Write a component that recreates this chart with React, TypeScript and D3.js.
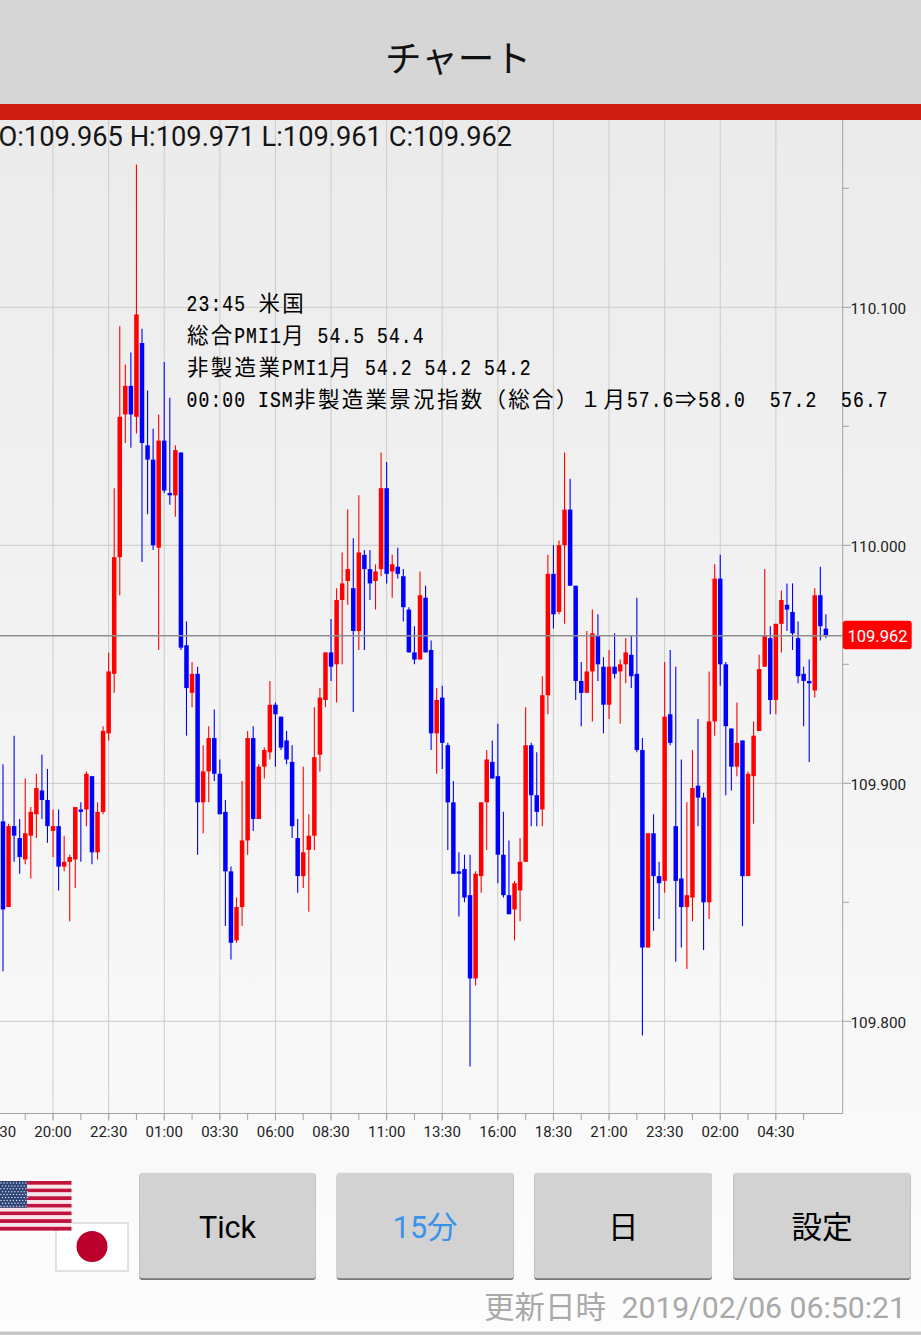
import React from "react";
import * as d3 from "d3";

// Prices are stored as thousandths above 109 (1000 = 110.000).
const opens = [
  884,848,882,877,868,878,887,897,893,880,
  882,865,867,868,889,889,903,871,888,921,
  946,995,1055,1067,1054,1085,1042,1036,999,1044,
  1022,1021,1039,958,938,946,892,905,919,904,
  888,863,834,848,876,919,885,907,913,933,
  928,918,909,877,861,872,878,912,935,955,
  950,977,985,982,964,996,990,985,990,1024,
  989,991,987,973,955,952,978,956,921,936,
  916,892,863,864,853,818,861,892,909,903,
  870,853,847,855,867,916,895,889,937,988,
  972,1000,1015,983,943,938,947,962,949,933,
  949,947,950,954,946,914,831,879,861,859,
  929,882,860,848,852,899,894,850,926,986,
  950,923,907,918,861,903,922,949,961,935,
  967,975,972,961,946,943,939,979,965,
];
const closes = [
  847,882,878,869,879,888,898,893,882,882,
  865,867,869,890,888,904,871,888,922,947,
  995,1054,1067,1055,1097,1043,1036,1000,1044,1023,
  1021,1040,957,940,946,892,905,919,904,887,
  863,833,848,876,919,885,907,914,933,929,
  915,910,882,861,871,878,911,936,955,949,
  977,984,990,964,997,990,984,989,1024,988,
  992,988,974,955,952,979,955,921,935,917,
  892,862,862,852,818,862,892,910,902,870,
  853,845,858,867,916,895,888,937,988,971,
  1000,1015,983,943,938,947,963,950,933,949,
  946,950,955,945,914,831,879,861,858,928,
  917,859,848,853,898,894,850,926,986,950,
  924,907,917,861,904,920,948,962,935,967,
  977,973,963,945,943,942,979,966,962,
];
const highs = [
  908,883,920,885,902,890,904,912,906,889,
  889,878,870,890,892,905,903,892,924,955,
  1024,1092,1076,1081,1160,1091,1065,1049,1055,1077,
  1062,1042,1039,968,951,949,916,924,931,910,
  893,865,852,901,922,924,908,915,943,934,
  928,922,916,885,907,887,932,940,955,969,
  982,997,1015,1003,1021,998,998,992,1039,1035,
  996,999,990,974,966,989,983,960,940,941,
  917,901,871,870,870,863,892,914,918,925,
  888,876,859,877,932,917,913,945,996,1000,
  1002,1039,1028,983,951,964,973,971,953,956,
  963,952,961,962,978,919,879,887,867,951,
  956,949,910,892,914,927,896,947,992,996,
  951,923,934,918,905,926,954,990,966,967,
  981,984,984,968,949,952,982,991,971,
];
const lows = [
  821,848,867,862,866,860,877,885,875,869,
  855,863,842,856,867,882,866,868,887,918,
  938,979,1043,1041,1047,993,1013,998,956,1022,
  1017,1012,956,920,932,870,879,892,901,887,
  840,826,833,840,870,880,885,902,910,907,
  914,908,877,854,856,846,872,905,932,943,
  934,950,975,930,956,956,977,973,987,984,
  978,986,968,955,950,952,955,914,904,906,
  872,862,844,850,781,815,854,872,902,858,
  852,845,834,842,867,882,882,882,929,965,
  971,967,983,935,924,938,926,943,921,927,
  944,925,942,940,913,794,831,838,843,854,
  916,825,831,822,842,882,830,843,920,941,
  895,897,903,840,861,883,922,949,929,929,
  955,964,956,942,924,909,936,960,961,
];

const timeLabels = ["17:30","20:00","22:30","01:00","03:30","06:00","08:30","11:00","13:30","16:00","18:30","21:00","23:30","02:00","04:30"];
const priceLabels = [110.1, 110.0, 109.9, 109.8];
const priceHalfTicks = [110.15, 110.05, 109.95, 109.85];
const lastPrice = 109.962;
const ohlcText = "O:109.965 H:109.971 L:109.961 C:109.962";
const updatedLabel = "更新日時";
const updatedTime = "2019/02/06 06:50:21";
const eventLines = [
  "23:45 米国",
  "総合PMI1月 54.5 54.4",
  "非製造業PMI1月 54.2 54.2 54.2",
  "00:00 ISM非製造業景況指数（総合）１月57.6⇒58.0  57.2  56.7",
];
const buttons = [
  { label: "Tick", x0: 139.3, x1: 315.7, color: "#000" },
  { label: "15分", x0: 336.7, x1: 513.7, color: "#3a92ea" },
  { label: "日", x0: 534.3, x1: 712, color: "#000" },
  { label: "設定", x0: 733.3, x1: 910.7, color: "#000" },
];

const price = (v: number) => 109 + v / 1000;
const x = d3.scaleLinear().domain([0, 148]).range([3, 825.88]);
const y = d3.scaleLinear().domain([110, 109.9]).range([545.3, 783.3]);

const PLOT_RIGHT = 842.7;
const PLOT_TOP = 120;
const PLOT_BOTTOM = 1113.5;
const LAST_INDEX = opens.length - 1;
const SANS = "Roboto, 'Noto Sans CJK JP', sans-serif";
const CJK = "'Noto Sans CJK JP', Roboto, sans-serif";
const ADV = 11.9;

function EventLine({ text, lineY }: { text: string; lineY: number }) {
  let cur = 186;
  const glyphs = Array.from(text).map((ch, i) => {
    const wide = ch.charCodeAt(0) > 0x2000;
    const sx = cur;
    cur += wide ? ADV * 2 : ADV;
    if (ch === " ") return null;
    return wide ? (
      <text key={i} x={sx + 1} y={lineY} fontSize={21.5} fontFamily="'Noto Sans CJK JP'" fill="#000">{ch}</text>
    ) : (
      <text key={i} transform={`translate(${sx + 0.6},${lineY}) scale(0.84,1)`} fontSize={21.5}
        fontFamily="'Liberation Mono', monospace" fill="#000" stroke="#000" strokeWidth={0.2}>{ch}</text>
    );
  });
  return <g>{glyphs}</g>;
}

export default function App() {
  const gridIdx = d3.range(-1, 15).map((k) => 9 + k * 10).filter((i) => i <= LAST_INDEX && x(i) > 0);
  const tickIdx = d3.range(-1, 30).map((k) => 4 + k * 5).filter((i) => i <= LAST_INDEX && x(i) > 0);
  const usStripes = d3.range(13);
  const stripeH = 49.6 / 13;
  const starCols = d3.range(0, 9);
  const starRows = d3.range(0, 9);
  return (
    <svg width={921} height={1335} viewBox="0 0 921 1335"
      style={{ position: "absolute", left: 0, top: 0, display: "block" }}>
      <defs>
        <linearGradient id="bg" x1="0" y1="120" x2="0" y2="1335" gradientUnits="userSpaceOnUse">
          <stop offset="0" stopColor="#ebebeb" />
          <stop offset="0.82" stopColor="#f9f9f9" />
          <stop offset="1" stopColor="#fdfdfd" />
        </linearGradient>
      </defs>
      <rect x={0} y={120} width={921} height={1215} fill="url(#bg)" />
      <rect x={0} y={0} width={921} height={104} fill="#d6d6d6" />
      <rect x={0} y={104} width={921} height={16} fill="#d01e13" />
      <text x={458} y={72} textAnchor="middle" fontSize={36.6} fontFamily={CJK} fill="#111">チャート</text>

      {/* grid */}
      {priceLabels.map((p) => (
        <line key={p} x1={0} x2={PLOT_RIGHT} y1={y(p)} y2={y(p)} stroke="#cacaca" strokeWidth={1} />
      ))}
      {gridIdx.map((i) => (
        <line key={i} x1={x(i)} x2={x(i)} y1={PLOT_TOP} y2={1121} stroke="#cccccc" strokeWidth={1} />
      ))}

      {/* candles */}
      {opens.map((o, i) => {
        const up = closes[i] >= o;
        const color = up ? "#ff0000" : "#0000ff";
        const top = y(price(Math.max(o, closes[i])));
        const bot = y(price(Math.min(o, closes[i])));
        return (
          <g key={i}>
            <line x1={x(i)} x2={x(i)} y1={y(price(highs[i]))} y2={y(price(lows[i]))} stroke={color} strokeWidth={1.1} />
            <rect x={x(i) - 2.25} width={4.5} y={top} height={Math.max(bot - top, 1)} fill={color} />
          </g>
        );
      })}

      {/* last price line */}
      <line x1={0} x2={PLOT_RIGHT} y1={y(lastPrice)} y2={y(lastPrice)} stroke="#8e8e8e" strokeWidth={1.5} />

      {/* axes */}
      <line x1={PLOT_RIGHT} x2={PLOT_RIGHT} y1={PLOT_TOP} y2={PLOT_BOTTOM} stroke="#a2a2a2" strokeWidth={1} />
      <line x1={0} x2={PLOT_RIGHT} y1={PLOT_BOTTOM} y2={PLOT_BOTTOM} stroke="#a2a2a2" strokeWidth={1} />
      {tickIdx.map((i) => (
        <line key={i} x1={x(i)} x2={x(i)} y1={PLOT_BOTTOM} y2={1120} stroke="#a2a2a2" strokeWidth={1} />
      ))}
      {priceHalfTicks.map((p) => (
        <line key={p} x1={PLOT_RIGHT} x2={849} y1={y(p)} y2={y(p)} stroke="#a2a2a2" strokeWidth={1} />
      ))}
      {priceLabels.map((p) => (
        <g key={p}>
          <line x1={PLOT_RIGHT} x2={851} y1={y(p)} y2={y(p)} stroke="#a2a2a2" strokeWidth={1} />
          <text x={850.5} y={y(p) + 6.3} fontSize={15.3} fontFamily={SANS} fill="#222">{p.toFixed(3)}</text>
        </g>
      ))}
      {timeLabels.map((t, k) => (
        <text key={k} x={x(-1 + k * 10)} y={1136.5} textAnchor="middle" fontSize={15} fontFamily={SANS} fill="#222">{t}</text>
      ))}

      {/* last price tag */}
      <rect x={842.7} y={620.7} width={69} height={28.6} rx={3} fill="#ff0000" />
      <text x={877.5} y={y(lastPrice) + 5.8} textAnchor="middle" fontSize={16.5} fontFamily={SANS} fill="#fff">{lastPrice.toFixed(3)}</text>

      {/* OHLC */}
      <text x={-1.5} y={145.5} fontSize={27.25} fontFamily={SANS} fill="#151515">{ohlcText}</text>

      {/* economic events */}
      {eventLines.map((t, k) => (
        <EventLine key={k} text={t} lineY={311 + k * 32} />
      ))}

      {/* flags */}
      <g>
        <rect x={56} y={1223} width={72} height={48} fill="#fff" stroke="#e2e2e2" strokeWidth={2} />
        <circle cx={92} cy={1246.5} r={15.5} fill="#bc002d" />
        {usStripes.map((s) => (
          <rect key={s} x={0} y={1181 + s * stripeH} width={71.5} height={stripeH} fill={s % 2 ? "#f6e6ea" : "#c0143c"} />
        ))}
        <rect x={0} y={1181} width={27} height={26.7} fill="#2d4378" />
        {starRows.map((r) =>
          starCols.map((c) => (
            <circle key={`${r}-${c}`} cx={1 + c * 3.1 + (r % 2 ? 1.5 : 0)} cy={1183 + r * 2.9} r={0.75} fill="#d6dcea" />
          ))
        )}
      </g>

      {/* buttons */}
      {buttons.map((b) => (
        <g key={b.label}>
          <rect x={b.x0} y={1173.5} width={b.x1 - b.x0} height={106.5} rx={3} fill="#77777a" />
          <rect x={b.x0} y={1172.7} width={b.x1 - b.x0} height={105.5} rx={3} fill="#d2d2d2" />
          <text x={(b.x0 + b.x1) / 2} y={1238} textAnchor="middle" fontSize={30.5} fontFamily={SANS} fill={b.color}>{b.label}</text>
        </g>
      ))}

      {/* updated time */}
      <text x={484} y={1318} fontSize={30.5} fontFamily={CJK} fill="#a9a9a9">{updatedLabel}</text>
      <text x={906} y={1318} textAnchor="end" fontSize={30.2} fontFamily={SANS} fill="#a9a9a9">{updatedTime}</text>
      <rect x={0} y={1331.5} width={921} height={3.5} fill="#c8c8c8" />
    </svg>
  );
}
